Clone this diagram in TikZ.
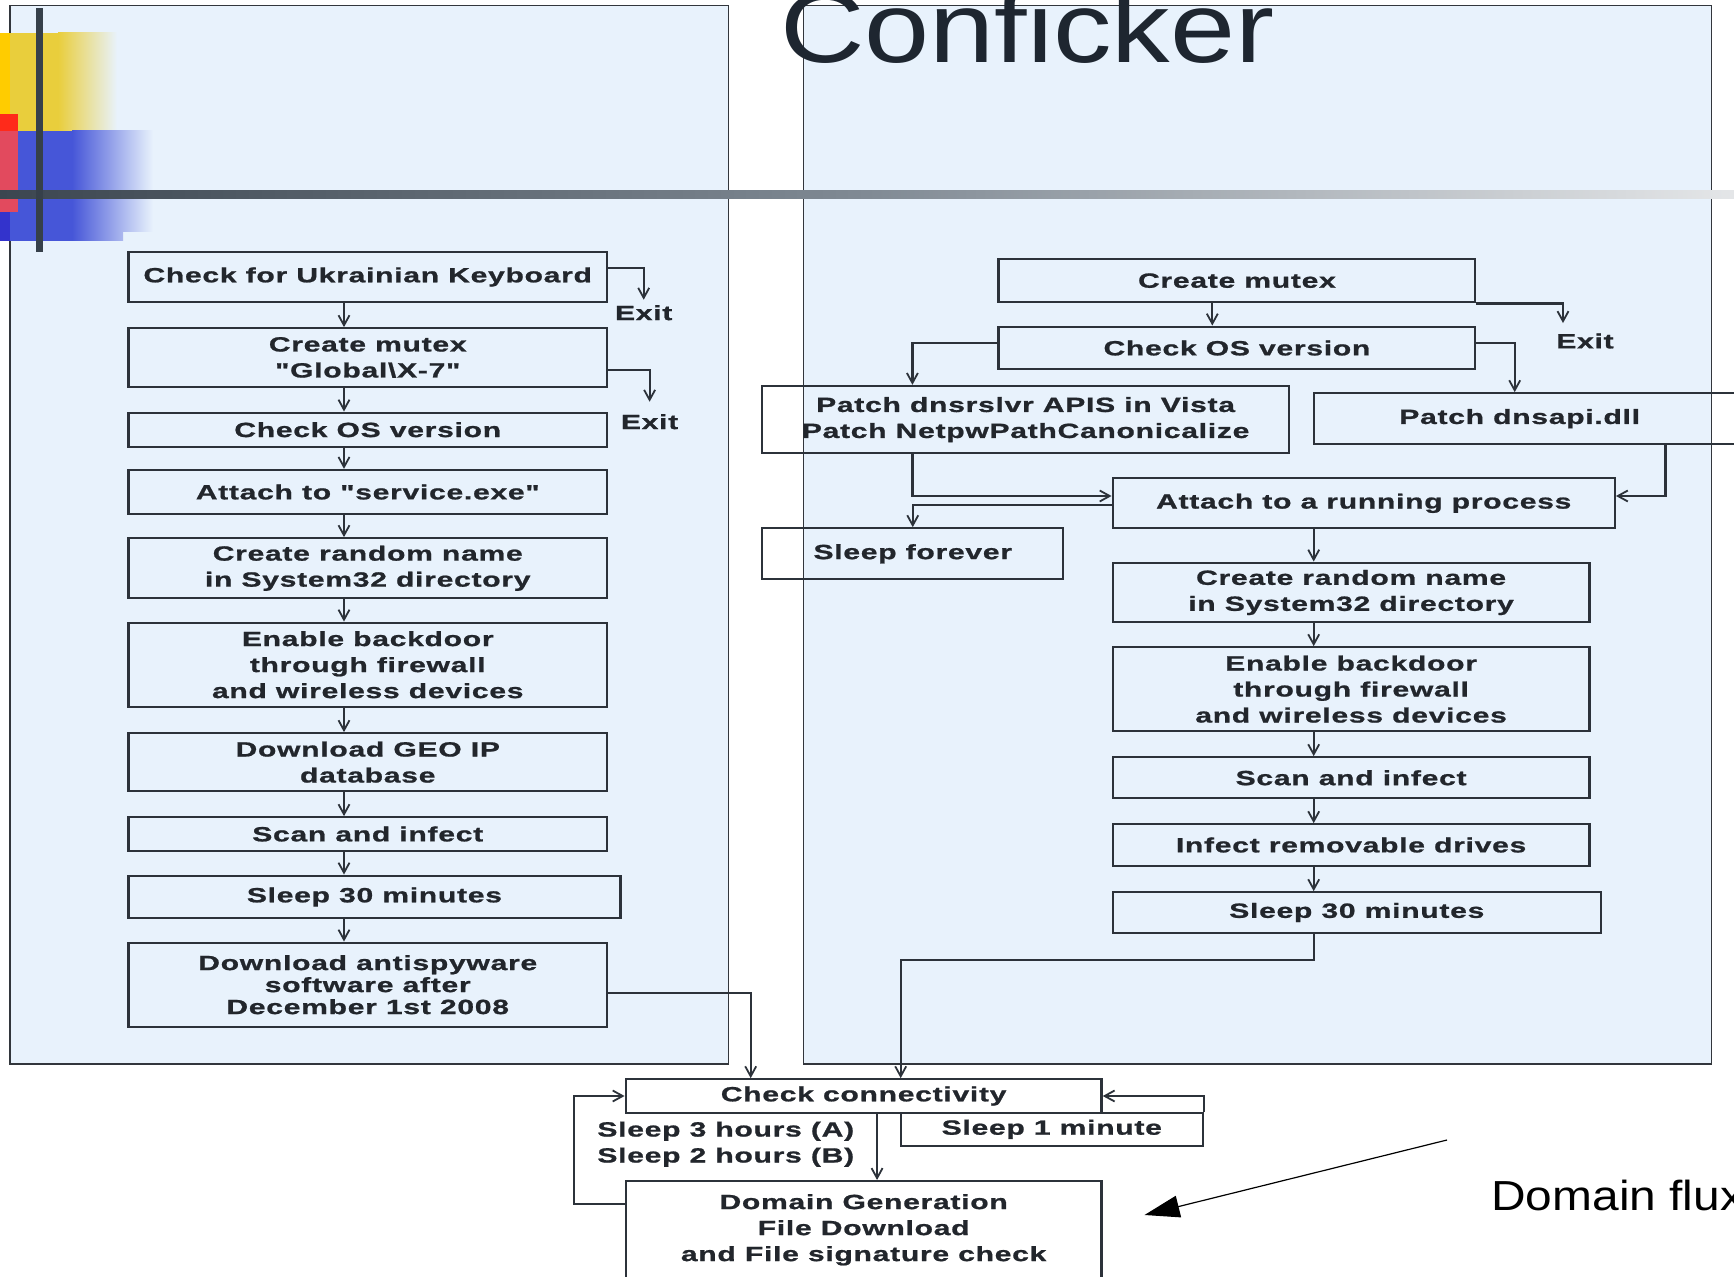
\documentclass[tikz,border=0pt]{standalone}
\usepackage{fontspec}
\setmainfont{Liberation Sans}
\newfontfamily\flowf{Liberation Sans}[FakeStretch=1.46,LetterSpace=3.5,BoldFeatures={FakeBold=1}]
\newfontfamily\titlef{Liberation Sans}[FakeStretch=1.17]
\newfontfamily\fluxf{Liberation Sans}[FakeStretch=1.14]
\usetikzlibrary{arrows.meta}
\definecolor{panelc}{RGB}{232,242,252}
\definecolor{panelline}{RGB}{50,54,60}
\definecolor{boxc}{RGB}{44,50,58}
\definecolor{txtc}{RGB}{34,38,44}
\definecolor{titlec}{RGB}{30,38,48}
\definecolor{yellowc}{RGB}{233,206,60}
\definecolor{yellowbright}{RGB}{255,204,0}
\definecolor{bluec}{RGB}{70,86,216}
\definecolor{bluedark}{RGB}{51,51,204}
\definecolor{redc}{RGB}{255,42,26}
\definecolor{redmid}{RGB}{226,74,94}
\definecolor{barL}{RGB}{60,70,80}
\definecolor{barM}{RGB}{128,138,148}
\definecolor{barR}{RGB}{228,230,232}
\definecolor{vbarc}{RGB}{54,64,74}
\newcommand\bx[6]{\node[box, minimum width={(#4-#2)*0.5pt}, minimum height={(#5-#3)*0.5pt}] (#1) at ({(#2+#4)/2},{(#3+#5)/2}) {#6};}
\begin{document}
\begin{tikzpicture}[x=0.5pt,y=-0.5pt,
  box/.style={draw=boxc, line width=1.15pt, inner sep=0pt, align=center, text=txtc, font=\flowf\bfseries\fontsize{10.3}{13}\selectfont},
  lbl/.style={inner sep=0pt, text=txtc, font=\flowf\bfseries\fontsize{10.3}{13}\selectfont},
  arr/.style={draw=boxc, line width=1.1pt, -{Straight Barb[length=5pt,width=5.5pt,line width=0.9pt]}},
  panel/.style={fill=panelc, draw=panelline, line width=0.6pt}]
\useasboundingbox (0,0) rectangle (1734,1277);
\fill[white] (0,0) rectangle (1734,1277);
% panels
\draw[panel] (10,5.3) rectangle (728.8,1064);
\draw[panel] (803.4,5.3) rectangle (1711.5,1064);
% slide decorations
\fill[yellowc] (0,32.7) rectangle (58,130.7);
\shade[left color=yellowc, right color=panelc] (58,32.7) rectangle (117,130.7);
\fill[bluec] (0,130.7) rectangle (72,240.7);
\shade[left color=bluec, right color=panelc] (72,130.7) rectangle (153,231.7);
\shade[left color=bluec, right color=bluec!37!panelc] (72,231.7) rectangle (123,240.7);
\fill[yellowbright] (0,32.7) rectangle (10,130.7);
\fill[bluedark] (0,130.7) rectangle (10,240.7);
\fill[redc] (0,114) rectangle (17.7,130.7);
\fill[redmid] (0,130.7) rectangle (17.7,211.7);
\shade[left color=barL, right color=barR, middle color=barM] (0,191) rectangle (1734,199);
\fill[vbarc] (35.7,8.3) rectangle (42.7,251.7);
% title
\node[anchor=base west, inner sep=0pt, text=titlec, font=\titlef\fontsize{50}{50}\selectfont] (title) at (780,63) {Conficker};
% left column
\bx{L1}{128.5}{251.7}{607}{302.3}{Check for Ukrainian Keyboard}
\bx{L2}{128.5}{328.3}{607}{386.7}{Create mutex\\"Global\textbackslash X-7"}
\bx{L3}{128.5}{412.7}{607}{446.7}{Check OS version}
\bx{L4}{128.5}{470}{607}{514}{Attach to "service.exe"}
\bx{L5}{128.5}{538.3}{607}{598.3}{Create random name\\in System32 directory}
\bx{L6}{128.5}{622.7}{607}{706.7}{Enable backdoor\\through firewall\\and wireless devices}
\bx{L7}{128.5}{733.3}{607}{791}{Download GEO IP\\database}
\bx{L8}{128.5}{817.3}{607}{850.7}{Scan and infect}
\bx{L9}{128.5}{875.7}{620.4}{918.3}{Sleep 30 minutes}
\bx{L10}{128.5}{942.7}{607}{1026.7}{Download antispyware\\[-2pt]software after\\[-2pt]December 1st 2008}
\node[lbl] (exl1) at (643.7,312.7) {Exit};
\node[lbl] (exl2) at (649.6,421.7) {Exit};
\coordinate (lx) at (344,0);
\draw[arr] (L1.south -| lx) -- (L2.north -| lx);
\draw[arr] (L2.south -| lx) -- (L3.north -| lx);
\draw[arr] (L3.south -| lx) -- (L4.north -| lx);
\draw[arr] (L4.south -| lx) -- (L5.north -| lx);
\draw[arr] (L5.south -| lx) -- (L6.north -| lx);
\draw[arr] (L6.south -| lx) -- (L7.north -| lx);
\draw[arr] (L7.south -| lx) -- (L8.north -| lx);
\draw[arr] (L8.south -| lx) -- (L9.north -| lx);
\draw[arr] (L9.south -| lx) -- (L10.north -| lx);
\draw[arr, shorten >=2.5pt] ([yshift=4.35pt]L1.east) -| (exl1.north);
\draw[arr, shorten >=6pt] ([yshift=-6.25pt]L2.east) -| (exl2.north);
% right column
\bx{R1}{998.6}{259}{1475.3}{302.3}{Create mutex}
\bx{R2}{998.6}{326.7}{1475.3}{369.3}{Check OS version}
\bx{R3}{762.2}{386}{1289}{453.3}{Patch dnsrslvr APIS in Vista\\Patch NetpwPathCanonicalize}
\bx{R4}{1313.7}{393.3}{1790}{444}{\hspace*{-32.2pt}Patch dnsapi.dll}
\bx{R5}{1112.7}{478.3}{1614.8}{528.3}{Attach to a running process}
\bx{R6}{762.2}{528.3}{1063.3}{579.3}{Sleep forever}
\bx{R7}{1112.7}{562.7}{1589.5}{622.3}{Create random name\\in System32 directory}
\bx{R8}{1112.7}{647.3}{1589.5}{731}{Enable backdoor\\through firewall\\and wireless devices}
\bx{R9}{1112.7}{757.3}{1589.5}{798.3}{Scan and infect}
\bx{R10}{1112.7}{824.3}{1589.5}{865.7}{Infect removable drives}
\bx{R11}{1112.7}{892.3}{1600.9}{932.7}{Sleep 30 minutes}
\node[lbl] (exr) at (1585,341) {Exit};
\coordinate (rx0) at (1212.3,0);
\coordinate (rx) at (1313.7,0);
\coordinate (c3) at (912.4,0);
\coordinate (c4) at (1514.7,0);
\coordinate (c5) at (1665.5,0);
\draw[arr] (R1.south -| rx0) -- (R2.north -| rx0);
\draw[arr, shorten >=5pt] (R1.south east) -| ([xshift=-11pt]exr.north);
\draw[arr] ([yshift=2.35pt]R2.west) -| (R3.north -| c3);
\draw[arr] ([yshift=2.35pt]R2.east) -| (R4.north -| c4);
\draw[arr] (R3.south -| c3) |- ([yshift=3.65pt]R5.west);
\draw[arr] (R4.south -| c5) |- ([yshift=3.65pt]R5.east);
\draw[arr] ([yshift=-0.85pt]R5.west) -| (R6.north);
\draw[arr] (R5.south -| rx) -- (R7.north -| rx);
\draw[arr] (R7.south -| rx) -- (R8.north -| rx);
\draw[arr] (R8.south -| rx) -- (R9.north -| rx);
\draw[arr] (R9.south -| rx) -- (R10.north -| rx);
\draw[arr] (R10.south -| rx) -- (R11.north -| rx);
% bottom part
\bx{CC}{625.7}{1079.3}{1101.6}{1112.7}{Check connectivity}
\bx{S1}{900.7}{1112.7}{1202.9}{1146}{Sleep 1 minute}
\node[box, anchor=north, minimum width={475.9*0.5pt}, inner ysep=6.5pt] (DG) at (863.65,1180) {Domain Generation\\File Download\\and File signature check\\[10pt]~};
\node[lbl, anchor=west, align=left] (slp) at (597,1144.2) {Sleep 3 hours (A)\\Sleep 2 hours (B)};
\coordinate (cl) at (750.7,0);
\coordinate (cr) at (900.7,0);
\draw[arr] ([yshift=-4pt]L10.east) -| (CC.north -| cl);
\draw[arr] (R11.south -| rx) -- ++(0,26.3) -| (CC.north -| cr);
\draw[arr] ([xshift=6.7pt]CC.south) -- ([xshift=6.7pt]DG.north);
\draw[arr] ([yshift=-12pt]DG.north west) -- ++(-50.9,0) |- (CC.west);
\draw[arr] (S1.north east) |- (CC.east);
% domain flux note
\node[anchor=base west, inner sep=0pt, font=\fluxf\fontsize{21}{24}\selectfont] (flux) at (1491,1210) {Domain flux};
\coordinate (fa) at (1447,1140);
\coordinate (fb) at (1144.5,1215);
\draw[line width=0.6pt, black, -{Triangle[length=17.5pt,width=11pt]}] (fa) -- (fb);
\end{tikzpicture}
\end{document}
